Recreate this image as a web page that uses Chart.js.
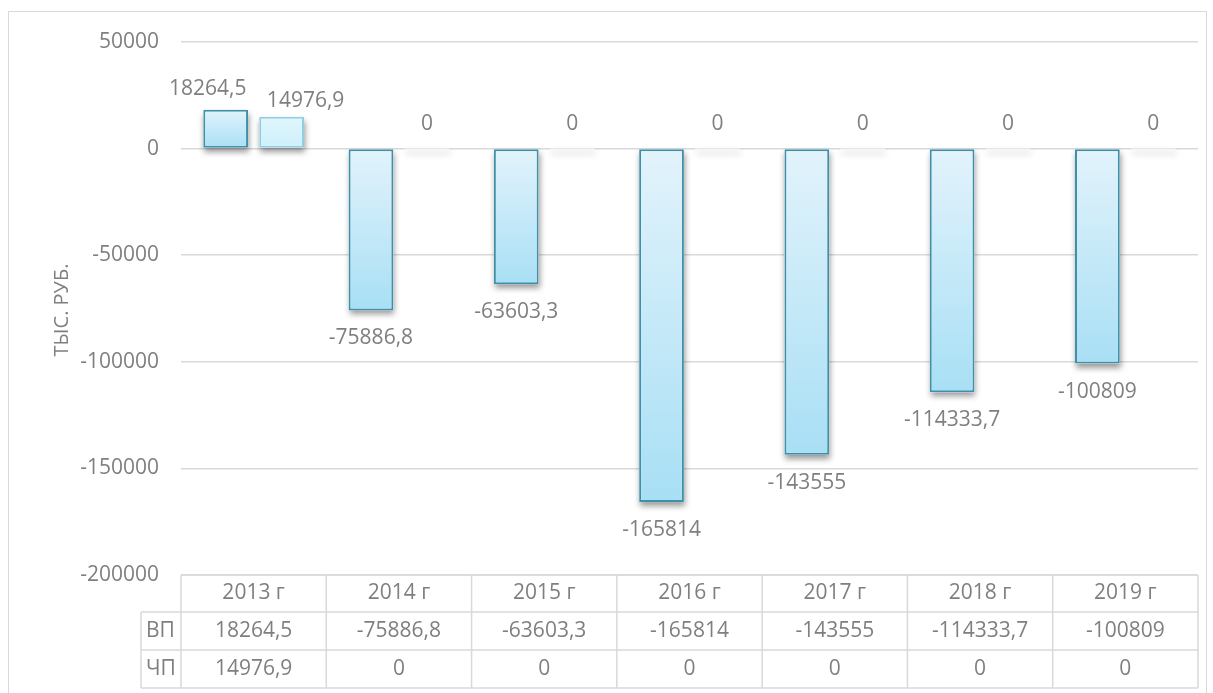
<!DOCTYPE html>
<html>
<head>
<meta charset="utf-8">
<script src="https://cdn.jsdelivr.net/npm/chart.js@4"></script>
<style>
  html, body { margin: 0; padding: 0; background: #fff; }
  #wrap { position: relative; width: 1213px; height: 693px; overflow: hidden; }
  #frame { position: absolute; left: 8px; top: 11px; width: 1199px; height: 720px; border: 1px solid #d9d9d9; box-sizing: border-box; }
  canvas { position: absolute; left: 0; top: 0; }
</style>
</head>
<body>
<div id="wrap">
  <div id="frame"></div>
  <canvas id="chart" width="1213" height="693"></canvas>
</div>
<script>
// --- Data ---
const categories = ['2013 г', '2014 г', '2015 г', '2016 г', '2017 г', '2018 г', '2019 г'];
const seriesNames = ['ВП', 'ЧП'];
const vpValues = [18264.5, -75886.8, -63603.3, -165814, -143555, -114333.7, -100809];
const chpValues = [14976.9, 0, 0, 0, 0, 0, 0];
const yMin = -200000;
const yMax = 50000;
const yStep = 50000;
const axisTitle = 'ТЫС. РУБ.';

const FONT = '"Open Sans", "Noto Sans", sans-serif';
const TEXT = '#7f7f7f';
const LINE = '#d9d9d9';

const fmt = v => String(v).replace('.', ',');

// vertical gradient per bar, light at top, darker at bottom
function barGradient(light, dark) {
  return ctx => {
    const chart = ctx.chart;
    if (!chart.chartArea || ctx.dataIndex === undefined) return dark;
    const y = chart.scales.y;
    const v = ctx.dataset.data[ctx.dataIndex];
    const top = y.getPixelForValue(Math.max(v, 0));
    const bot = y.getPixelForValue(Math.min(v, 0));
    if (bot - top < 1) return light;
    const g = chart.ctx.createLinearGradient(0, top, 0, bot);
    g.addColorStop(0, light);
    g.addColorStop(1, dark);
    return g;
  };
}

// --- Soft drop shadow drawn under each bar ---
const barShadow = {
  id: 'barShadow',
  beforeDatasetsDraw(chart) {
    const ctx = chart.ctx;
    ctx.save();
    ctx.shadowColor = 'rgba(0,0,0,0.4)';
    ctx.shadowBlur = 6;
    ctx.shadowOffsetX = 1;
    ctx.shadowOffsetY = 4;
    ctx.fillStyle = '#ffffff';
    chart.data.datasets.forEach((ds, di) => {
      chart.getDatasetMeta(di).data.forEach(bar => {
        const top = Math.min(bar.y, bar.base);
        const h = Math.max(Math.abs(bar.base - bar.y), 1);
        ctx.fillRect(bar.x - bar.width / 2, top, bar.width, h);
      });
    });
    ctx.restore();
  }
};

// --- Value labels ---
const valueLabels = {
  id: 'valueLabels',
  afterDatasetsDraw(chart) {
    const ctx = chart.ctx;
    const y0 = chart.scales.y.getPixelForValue(0);
    ctx.save();
    ctx.font = '21px ' + FONT;
    ctx.fillStyle = TEXT;
    ctx.textAlign = 'center';
    ctx.textBaseline = 'middle';
    chart.data.datasets.forEach((ds, di) => {
      chart.getDatasetMeta(di).data.forEach((bar, i) => {
        const v = ds.data[i];
        let x = bar.x, y;
        if (v > 0) {
          y = bar.y - (di === 0 ? 21 : 16);
          // keep the two positive labels apart like the original
          x += di === 0 ? -18 : 24;
        } else if (v < 0) {
          y = bar.y + 28;
        } else {
          y = y0 - 25;
        }
        ctx.fillText(fmt(v), x, y);
      });
    });
    ctx.restore();
  }
};

// --- Data table + axis title ---
const dataTable = {
  id: 'dataTable',
  afterDraw(chart) {
    const ctx = chart.ctx;
    const xs = chart.scales.x;
    const area = chart.chartArea;
    const colW = (area.right - area.left) / categories.length;
    const rows = [area.bottom, 612, 650, 688];
    const labelLeft = 141;

    ctx.save();
    ctx.strokeStyle = LINE;
    ctx.lineWidth = 1.5;
    ctx.beginPath();
    // horizontal lines
    ctx.moveTo(area.left, rows[0]); ctx.lineTo(area.right, rows[0]);
    for (let r = 1; r < rows.length; r++) {
      ctx.moveTo(labelLeft, rows[r]); ctx.lineTo(area.right, rows[r]);
    }
    // vertical lines
    for (let c = 0; c <= categories.length; c++) {
      const x = area.left + c * colW;
      ctx.moveTo(x, rows[0]); ctx.lineTo(x, rows[3]);
    }
    ctx.moveTo(labelLeft, rows[1]); ctx.lineTo(labelLeft, rows[3]);
    ctx.stroke();

    ctx.font = '21px ' + FONT;
    ctx.fillStyle = TEXT;
    ctx.textBaseline = 'middle';
    ctx.textAlign = 'center';
    const series = [vpValues, chpValues];
    categories.forEach((cat, i) => {
      const cx = xs.getPixelForValue(i);
      ctx.fillText(cat, cx, (rows[0] + rows[1]) / 2);
      series.forEach((vals, s) => {
        ctx.fillText(fmt(vals[i]), cx, (rows[s + 1] + rows[s + 2]) / 2);
      });
    });
    ctx.textAlign = 'left';
    seriesNames.forEach((n, s) => {
      ctx.fillText(n, labelLeft + 5, (rows[s + 1] + rows[s + 2]) / 2);
    });

    // axis title
    ctx.translate(62, 310);
    ctx.rotate(-Math.PI / 2);
    ctx.textAlign = 'center';
    ctx.font = '20px ' + FONT;
    ctx.fillText(axisTitle, 0, 0);
    ctx.restore();
  }
};

new Chart(document.getElementById('chart'), {
  type: 'bar',
  data: {
    labels: categories,
    datasets: [
      {
        label: seriesNames[0],
        data: vpValues,
        backgroundColor: barGradient('#e2f3fb', '#a8dff5'),
        borderColor: '#3e90aa',
        borderWidth: 2,
        borderSkipped: false
      },
      {
        label: seriesNames[1],
        data: chpValues,
        backgroundColor: barGradient('#e0f6fd', '#cdf0fc'),
        borderColor: '#94cde0',
        borderWidth: 2,
        borderSkipped: false
      }
    ]
  },
  options: {
    responsive: false,
    animation: false,
    categoryPercentage: 0.77,
    barPercentage: 0.8,
    layout: { padding: { top: 42, right: 15, bottom: 118, left: 0 } },
    plugins: {
      legend: { display: false },
      tooltip: { enabled: false }
    },
    scales: {
      x: { display: false },
      y: {
        min: yMin,
        max: yMax,
        ticks: {
          stepSize: yStep,
          color: TEXT,
          font: { family: FONT, size: 21 },
          padding: 22,
          callback: v => String(v)
        },
        grid: { color: LINE, lineWidth: 1.5, drawTicks: false },
        border: { display: false },
        afterFit(scale) { scale.width = 181; }
      }
    }
  },
  plugins: [barShadow, valueLabels, dataTable]
});
</script>
</body>
</html>
